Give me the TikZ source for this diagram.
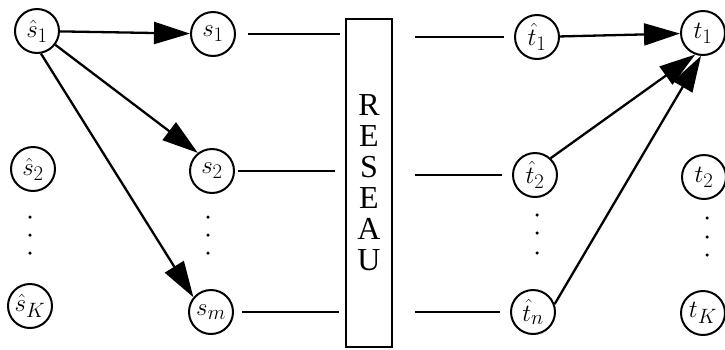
\documentclass[tikz,border=0pt]{standalone}
\usepackage{fontspec}
\setmainfont{Liberation Serif}
\usetikzlibrary{arrows.meta}
\begin{document}
\begin{tikzpicture}[x=1pt,y=-1pt,
  vert/.style={circle,draw,line width=2pt,minimum size=44pt,inner sep=0pt,
    font=\fontsize{28}{28}\selectfont},
  ln/.style={line width=2pt},
  arr/.style={line width=2.3pt,-{Triangle[length=36pt,width=22pt]}},
  pt/.style={circle,fill,inner sep=0pt,minimum size=3.5pt}]
\useasboundingbox (0,0) rectangle (725,349);
% left column
\node[vert] (sh1) at (37,31) {$\hat{s}_1$};
\node[vert] (sh2) at (33,169) {$\hat{s}_2$};
\node[vert] (shK) at (30,306) {$\hat{s}_K$};
\node[pt] (d1) at (30,217) {};
\node[pt] (d2) at (30,235) {};
\node[pt] (d3) at (30,253) {};
% second column
\node[vert] (s1) at (213,34) {$s_1$};
\node[vert] (s2) at (212,171) {$s_2$};
\node[vert] (sm) at (211,312) {$s_m$};
\node[pt] (e1) at (208,217) {};
\node[pt] (e2) at (208,235) {};
\node[pt] (e3) at (208,253) {};
% network box
\node[draw,line width=2pt,minimum width=46pt,minimum height=328pt,inner sep=0pt,
  align=center,font=\fontsize{32}{31}\selectfont] (box) at (369,183)
  {R\\E\\S\\E\\A\\U};
% third column
\node[vert] (th1) at (537,37) {$\hat{t}_1$};
\node[vert] (th2) at (535,175) {$\hat{t}_2$};
\node[vert] (thn) at (533,312) {$\hat{t}_n$};
\node[pt] (f1) at (537,215) {};
\node[pt] (f2) at (537,233) {};
\node[pt] (f3) at (537,253) {};
% fourth column
\node[vert] (t1) at (703,33) {$t_1$};
\node[vert] (t2) at (704,177) {$t_2$};
\node[vert] (tK) at (703,313) {$t_K$};
\node[pt] (g1) at (707,218) {};
\node[pt] (g2) at (707,237) {};
\node[pt] (g3) at (707,255) {};
% arrows left
\draw[arr] (sh1) -- (s1);
\draw[arr] (sh1.-37) -- (s2.128);
\draw[arr] (sh1.280) -- (sm.140);
% lines into network
\draw[ln,shorten <=12pt,shorten >=5pt] (s1) -- (s1 -| box.west);
\draw[ln,shorten <=3pt,shorten >=10pt] (s2) -- (s2 -| box.west);
\draw[ln,shorten <=8pt,shorten >=6pt] (sm) -- (sm -| box.west);
\draw[ln,shorten <=22pt,shorten >=10pt] (th1 -| box.east) -- (th1);
\draw[ln,shorten <=22pt,shorten >=10pt] (th2 -| box.east) -- (th2);
\draw[ln,shorten <=22pt,shorten >=10pt] (thn -| box.east) -- (thn);
% arrows right
\draw[arr] (th1) -- (t1);
\draw[arr] (th2.47) -- (t1.250);
\draw[arr] (thn.20) -- (t1.265);
\end{tikzpicture}
\end{document}
